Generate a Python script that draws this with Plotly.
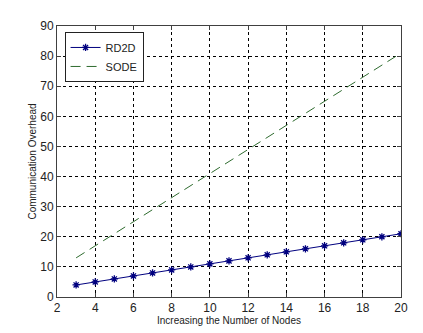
import plotly.graph_objects as go

# ── Data ────────────────────────────────────────────────────────
nodes = list(range(3, 21))
rd2d = [4, 5, 6, 7, 8, 9, 10, 11, 12, 13, 14, 15, 16, 17, 18, 19, 20, 21]
sode = [13, 17, 21, 25, 29, 33, 37, 41, 45, 49, 53, 57, 61, 65, 69, 73, 77, 81]

x_ticks = [2, 4, 6, 8, 10, 12, 14, 16, 18, 20]
y_ticks = [0, 10, 20, 30, 40, 50, 60, 70, 80, 90]

# ── Figure ──────────────────────────────────────────────────────
# page body has an 8px default margin, so the figure is sized 8px smaller
fig = go.Figure()
fig.add_trace(go.Scatter(
    x=nodes, y=rd2d, mode="lines+markers", name="RD2D",
    line=dict(color="#00007f", width=1),
    marker=dict(symbol="asterisk-open", size=6,
                line=dict(color="#0000a0", width=1.3)),
))
fig.add_trace(go.Scatter(
    x=nodes, y=sode, mode="lines", name="SODE",
    line=dict(color="#2e6b2e", width=1, dash="10px,6px"),
))

axis_style = dict(
    showline=True, linecolor="#404040", linewidth=1, mirror="ticks",
    ticks="inside", ticklen=4, tickcolor="#404040",
    showgrid=True, gridcolor="#000000", griddash="dot", gridwidth=1,
    zeroline=False, tickfont=dict(size=12, color="#222"),
    automargin=False,
)

fig.update_layout(
    width=415, height=325,
    margin=dict(l=49, r=22, t=18, b=36),
    paper_bgcolor="white", plot_bgcolor="white",
    font=dict(family="Liberation Sans, Arial, sans-serif", size=11, color="#222"),
    xaxis=dict(axis_style, range=[2, 20], tickvals=x_ticks,
               title=dict(text="Increasing the Number of Nodes",
                          font=dict(size=10), standoff=0)),
    yaxis=dict(axis_style, range=[0, 90], tickvals=y_ticks,
               title=dict(text="Communication Overhead",
                          font=dict(size=10), standoff=1)),
    legend=dict(x=0.022, y=0.978, xanchor="left", yanchor="top",
                bgcolor="white", bordercolor="#222", borderwidth=1,
                font=dict(size=11), tracegroupgap=0,
                itemwidth=30, entrywidth=62, entrywidthmode="pixels"),
    showlegend=True,
)

fig.write_html("out.html")
